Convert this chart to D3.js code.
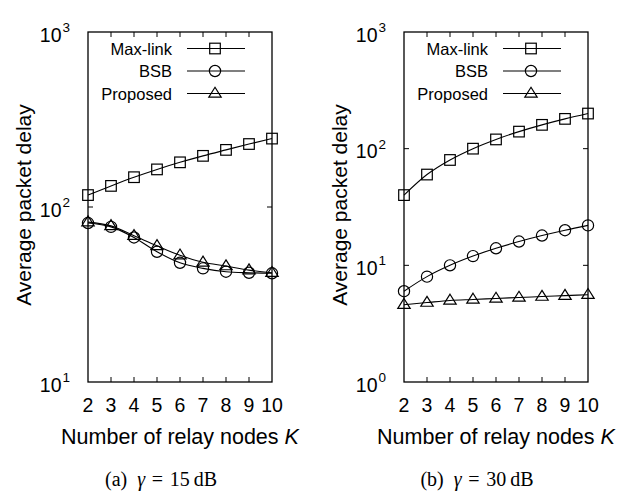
<!DOCTYPE html>
<html>
<head>
<meta charset="utf-8">
<script src="https://cdn.jsdelivr.net/npm/d3@7.9.0/dist/d3.min.js"></script>
<style>
  body { margin: 0; background: #fff; }
  svg { display: block; }
  text { font-family: "Liberation Sans", Arial, sans-serif; fill: #000; }
  .caption { font-family: "Liberation Serif", "Times New Roman", serif; }
</style>
</head>
<body>
<svg id="chart" width="636" height="493"></svg>
<script>
const relayK = [2, 3, 4, 5, 6, 7, 8, 9, 10];
const seriesNames = ['Max-link', 'BSB', 'Proposed'];

// (a) gamma = 15 dB
const maxLinkA = [117, 132, 148, 164, 180, 196, 212, 229, 246];
const bsbA = [81, 77, 67, 55.5, 48, 44.6, 42.7, 42.1, 41.8];
const proposedA = [82, 78, 68.5, 60, 53, 48.3, 46, 43.6, 42.1];

// (b) gamma = 30 dB
const maxLinkB = [40, 60, 80, 100, 120, 140, 160, 180, 200];
const bsbB = [6, 8, 10, 12, 14, 16, 18, 20, 22];
const proposedB = [4.6, 4.8, 5.0, 5.1, 5.2, 5.3, 5.4, 5.5, 5.6];

const panels = [
  { x0: 88, yDomain: [10, 1000], expTicks: [1, 2, 3], series: [maxLinkA, bsbA, proposedA], label: '(a)', db: '15' },
  { x0: 404, yDomain: [1, 1000], expTicks: [0, 1, 2, 3], series: [maxLinkB, bsbB, proposedB], label: '(b)', db: '30' },
];

const svg = d3.select('#chart');
const plotW = 184, plotTop = 32, plotBottom = 382;
const tickLen = 5;
const markers = ['square', 'circle', 'triangle'];

function drawMarker(g, type, x, y) {
  if (type === 'square') {
    g.append('rect').attr('x', x - 5.3).attr('y', y - 5.3).attr('width', 10.6).attr('height', 10.6)
      .attr('fill', 'none').attr('stroke', '#000').attr('stroke-width', 1.2);
  } else if (type === 'circle') {
    g.append('circle').attr('cx', x).attr('cy', y).attr('r', 5.6)
      .attr('fill', 'none').attr('stroke', '#000').attr('stroke-width', 1.2);
  } else {
    const s = 6.2;
    g.append('path')
      .attr('d', `M${x},${y - s}L${x + s},${y + s * 0.6}L${x - s},${y + s * 0.6}Z`)
      .attr('fill', 'none').attr('stroke', '#000').attr('stroke-width', 1.2);
  }
}

panels.forEach(p => {
  const x = d3.scaleLinear().domain([2, 10]).range([p.x0, p.x0 + plotW]);
  const y = d3.scaleLog().domain(p.yDomain).range([plotBottom, plotTop]);
  const g = svg.append('g');

  // ticks inward on all sides
  const ticks = g.append('g').attr('stroke', '#000').attr('stroke-width', 1);
  relayK.slice(1, -1).forEach(k => {
    ticks.append('line').attr('x1', x(k)).attr('x2', x(k)).attr('y1', plotBottom).attr('y2', plotBottom - tickLen);
    ticks.append('line').attr('x1', x(k)).attr('x2', x(k)).attr('y1', plotTop).attr('y2', plotTop + tickLen);
  });
  p.expTicks.slice(1, -1).forEach(e => {
    const yy = y(Math.pow(10, e));
    ticks.append('line').attr('x1', p.x0).attr('x2', p.x0 + tickLen).attr('y1', yy).attr('y2', yy);
    ticks.append('line').attr('x1', p.x0 + plotW).attr('x2', p.x0 + plotW - tickLen).attr('y1', yy).attr('y2', yy);
  });

  // x tick labels
  g.append('g').selectAll('text').data(relayK).join('text')
    .attr('x', d => x(d)).attr('y', 412)
    .attr('text-anchor', 'middle').attr('font-size', 19.5)
    .text(d => d);

  // y tick labels 10^n
  p.expTicks.forEach(e => {
    const t = g.append('text')
      .attr('x', p.x0 - 18).attr('y', y(Math.pow(10, e)) + 9.5)
      .attr('text-anchor', 'end').attr('font-size', 19.5);
    t.append('tspan').text('10');
    t.append('tspan').attr('font-size', 13.5).attr('dy', -9.5).attr('dx', 1).text(e);
  });

  // series lines and markers
  const line = d3.line().x((d, i) => x(relayK[i])).y(d => y(d)).curve(d3.curveMonotoneX);
  p.series.forEach((vals, si) => {
    g.append('path').attr('d', line(vals))
      .attr('fill', 'none').attr('stroke', '#000').attr('stroke-width', 1.1);
    vals.forEach((v, i) => drawMarker(g, markers[si], x(relayK[i]), y(v)));
  });

  // frame
  g.append('rect').attr('x', p.x0).attr('y', plotTop).attr('width', plotW).attr('height', plotBottom - plotTop)
    .attr('fill', 'none').attr('stroke', '#000').attr('stroke-width', 1.3);

  // legend
  const legY = [48.5, 71, 93.5];
  seriesNames.forEach((name, i) => {
    g.append('text').attr('x', p.x0 + 84).attr('y', legY[i] + 6)
      .attr('text-anchor', 'end').attr('font-size', 16.5).text(name);
    g.append('line').attr('x1', p.x0 + 99).attr('x2', p.x0 + 157)
      .attr('y1', legY[i]).attr('y2', legY[i]).attr('stroke', '#000').attr('stroke-width', 1.1);
    drawMarker(g, markers[i], p.x0 + 127, legY[i]);
  });

  // axis titles
  const xt = g.append('text').attr('x', p.x0 + plotW / 2).attr('y', 444)
    .attr('text-anchor', 'middle').attr('font-size', 21.5);
  xt.append('tspan').text('Number of relay nodes ');
  xt.append('tspan').attr('font-style', 'italic').text('K');

  g.append('text')
    .attr('transform', `translate(${p.x0 - 57},${(plotTop + plotBottom) / 2 - 2}) rotate(-90)`)
    .attr('text-anchor', 'middle').attr('font-size', 21)
    .text('Average packet delay');

  // caption
  const cap = g.append('text').attr('class', 'caption')
    .attr('x', p.x0 + 73).attr('y', 486)
    .attr('text-anchor', 'middle').attr('font-size', 20);
  cap.append('tspan').text(p.label + '\u2002');
  cap.append('tspan').attr('font-style', 'italic').text('\u03b3');
  cap.append('tspan').text('\u2004=\u2004' + p.db + '\u2009dB');
});
</script>
</body>
</html>
